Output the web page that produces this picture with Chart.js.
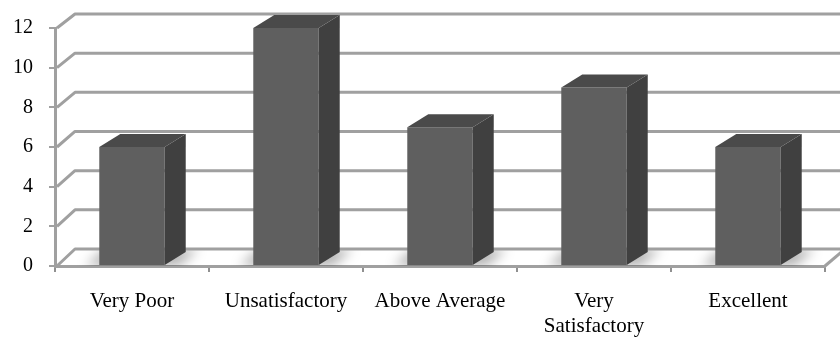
<!DOCTYPE html>
<html>
<head>
<meta charset="utf-8">
<script src="https://cdn.jsdelivr.net/npm/chart.js@4/dist/chart.umd.min.js"></script>
<style>
  html, body { margin: 0; padding: 0; background: #ffffff; }
  #wrap { width: 840px; height: 337px; position: relative; }
</style>
</head>
<body>
<div id="wrap"><canvas id="chart"></canvas></div>
<script>
// Survey ratings
const categories = ['Very Poor', 'Unsatisfactory', 'Above Average', ['Very', 'Satisfactory'], 'Excellent'];
const ratings = [6, 12, 7, 9, 6];
const yMin = 0;
const yMax = 12;
const yStep = 2;

// 3D look: depth offset of the back wall and of the bar blocks
const WALL_DX = 20, WALL_DY = -17;
const BAR_DX = 21, BAR_DY = -13;
const GRID = '#a0a0a0';

// back wall projection of a front pixel (slight perspective shrink)
function backY(frontY, baseY) {
  return baseY + WALL_DY + (frontY - baseY) * (237 / 240);
}

const wall3d = {
  id: 'wall3d',
  beforeDatasetsDraw(chart) {
    const { ctx, chartArea: a, scales: { y } } = chart;
    const base = y.getPixelForValue(yMin);
    ctx.save();

    // floor shading under each block
    ctx.save();
    ctx.beginPath();
    ctx.moveTo(a.left, base);
    ctx.lineTo(a.left + WALL_DX, base + WALL_DY);
    ctx.lineTo(a.right + WALL_DX, base + WALL_DY);
    ctx.lineTo(a.right, base);
    ctx.closePath();
    ctx.clip();
    ctx.filter = 'blur(6px)';
    ctx.fillStyle = 'rgba(0,0,0,0.3)';
    const meta = chart.getDatasetMeta(0);
    meta.data.forEach(bar => {
      const l = bar.x - bar.width / 2 - 14;
      const r = bar.x + bar.width / 2 + 14;
      ctx.beginPath();
      ctx.moveTo(l, base);
      ctx.lineTo(l + WALL_DX, base + WALL_DY);
      ctx.lineTo(r + WALL_DX, base + WALL_DY);
      ctx.lineTo(r, base);
      ctx.closePath();
      ctx.fill();
    });
    ctx.restore();

    // back wall grid lines with the diagonal run from the front axis
    ctx.strokeStyle = GRID;
    ctx.lineWidth = 3;
    ctx.lineJoin = 'round';
    y.ticks.forEach(t => {
      const fy = y.getPixelForValue(t.value);
      const by = backY(fy, base);
      ctx.beginPath();
      ctx.moveTo(a.left + 2, fy);
      ctx.lineTo(a.left + WALL_DX, by);
      ctx.lineTo(chart.width + 10, by);
      ctx.stroke();
    });
    // right edge of the floor
    ctx.beginPath();
    ctx.moveTo(a.right, base);
    ctx.lineTo(a.right + WALL_DX, backY(base, base));
    ctx.stroke();
    ctx.restore();
  },
  afterDatasetsDraw(chart) {
    const { ctx } = chart;
    const meta = chart.getDatasetMeta(0);
    ctx.save();
    meta.data.forEach(bar => {
      const l = bar.x - bar.width / 2;
      const r = bar.x + bar.width / 2;
      const top = bar.y;
      const bottom = bar.base;
      // side face
      ctx.fillStyle = '#404040';
      ctx.beginPath();
      ctx.moveTo(r, top);
      ctx.lineTo(r + BAR_DX, top + BAR_DY);
      ctx.lineTo(r + BAR_DX, bottom + BAR_DY);
      ctx.lineTo(r, bottom);
      ctx.closePath();
      ctx.fill();
      // top face
      ctx.fillStyle = '#4a4a4a';
      ctx.beginPath();
      ctx.moveTo(l, top);
      ctx.lineTo(l + BAR_DX, top + BAR_DY);
      ctx.lineTo(r + BAR_DX, top + BAR_DY);
      ctx.lineTo(r, top);
      ctx.closePath();
      ctx.fill();
    });
    ctx.restore();
  }
};

new Chart(document.getElementById('chart'), {
  type: 'bar',
  data: {
    labels: categories,
    datasets: [{
      data: ratings,
      backgroundColor: '#5f5f5f',
      borderWidth: 0,
      barPercentage: 0.425,
      categoryPercentage: 1
    }]
  },
  options: {
    responsive: true,
    maintainAspectRatio: false,
    animation: false,
    events: [],
    layout: { padding: { top: 26, right: 15, left: 0, bottom: 0 } },
    plugins: { legend: { display: false }, tooltip: { enabled: false } },
    scales: {
      x: {
        z: 1,
        afterFit(scale) { scale.height = 71; },
        border: { display: true, color: GRID, width: 3 },
        grid: {
          display: true, offset: true, drawOnChartArea: false,
          drawTicks: true, tickLength: 6, color: '#909090', lineWidth: 2
        },
        ticks: {
          color: '#000000',
          padding: 17,
          maxRotation: 0,
          autoSkip: false,
          font: { family: 'Liberation Serif', size: 21, lineHeight: 1.2 }
        }
      },
      y: {
        min: yMin,
        max: yMax,
        afterFit(scale) { scale.width = 55; },
        border: { display: true, color: GRID, width: 3 },
        grid: {
          display: true, drawOnChartArea: false,
          drawTicks: true, tickLength: 6, color: GRID, lineWidth: 2
        },
        ticks: {
          stepSize: yStep,
          color: '#000000',
          padding: 16,
          font: { family: 'Liberation Serif', size: 20 }
        }
      }
    }
  },
  plugins: [wall3d]
});
</script>
</body>
</html>
